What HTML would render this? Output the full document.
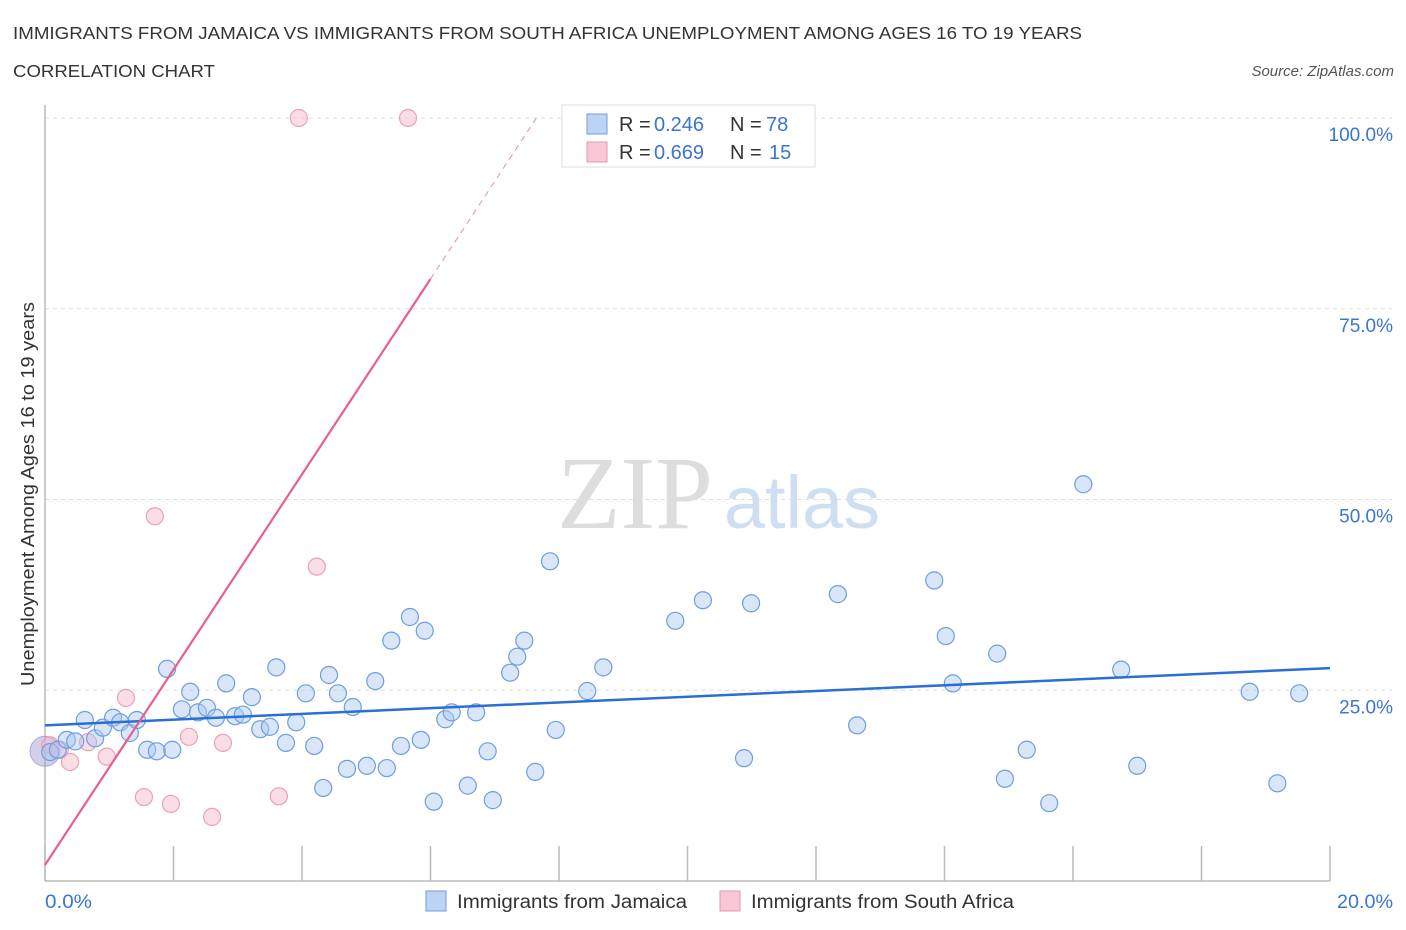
<!DOCTYPE html>
<html><head><meta charset="utf-8">
<style>
body{margin:0;background:#fff;font-family:"Liberation Sans",sans-serif;}
svg{display:block}
</style></head>
<body>
<svg id="chart" width="1406" height="930">
<text x="13" y="39" font-size="17.5" fill="#333" textLength="1069" lengthAdjust="spacingAndGlyphs">IMMIGRANTS FROM JAMAICA VS IMMIGRANTS FROM SOUTH AFRICA UNEMPLOYMENT AMONG AGES 16 TO 19 YEARS</text>
<text x="13" y="77" font-size="17.5" fill="#333" textLength="202" lengthAdjust="spacingAndGlyphs">CORRELATION CHART</text>
<text x="1394" y="76" font-size="15" fill="#555" font-style="italic" text-anchor="end">Source: ZipAtlas.com</text>
<text x="635" y="528" font-size="104" fill="#ddd" font-family="Liberation Serif" text-anchor="middle">ZIP</text>
<text x="802" y="528" font-size="74" fill="#cfdff2" text-anchor="middle">atlas</text>
<g id="grid"></g>
<g id="axes"></g>
<g id="marks"></g>
<text transform="translate(34,494) rotate(-90)" font-size="18.5" fill="#333" text-anchor="middle" textLength="384" lengthAdjust="spacingAndGlyphs">Unemployment Among Ages 16 to 19 years</text>
<text x="45" y="908" font-size="19" fill="#3b74d1" textLength="47" lengthAdjust="spacingAndGlyphs">0.0%</text>
<text x="1337" y="908" font-size="19" fill="#3b74d1" textLength="56" lengthAdjust="spacingAndGlyphs">20.0%</text>
<g>
<rect x="562" y="105" width="253" height="62" fill="#fff" stroke="#ddd"/>
<rect x="587" y="114" width="20" height="20" fill="#bcd3f3" stroke="#6d9ee0"/>
<rect x="587" y="142" width="20" height="20" fill="#f8c6d4" stroke="#e895ae"/>
<text y="131" font-size="20" fill="#333"><tspan x="619">R =</tspan><tspan x="654" fill="#3b74d1">0.246</tspan><tspan x="730">N =</tspan><tspan x="766" fill="#3b74d1">78</tspan></text>
<text y="159" font-size="20" fill="#333"><tspan x="619">R =</tspan><tspan x="654" fill="#3b74d1">0.669</tspan><tspan x="730">N =</tspan><tspan x="769" fill="#3b74d1">15</tspan></text>
</g>
<g>
<rect x="426" y="891" width="20" height="20" fill="#bcd3f3" stroke="#6d9ee0"/>
<text x="457" y="908" font-size="19" fill="#333" textLength="230" lengthAdjust="spacingAndGlyphs">Immigrants from Jamaica</text>
<rect x="720" y="891" width="20" height="20" fill="#f8c6d4" stroke="#e895ae"/>
<text x="751" y="908" font-size="19" fill="#333" textLength="263" lengthAdjust="spacingAndGlyphs">Immigrants from South Africa</text>
</g>
</svg>
<script>
const yTicks=[25,50,75,100];
const yTickLabels=["25.0%","50.0%","75.0%","100.0%"];
const xTicks=[0,2,4,6,8,10,12,14,16,18,20];
const jamX=[0.08,0.2,0.34,0.62,0.47,0.78,0.9,1.06,1.17,1.32,1.43,1.59,1.74,1.98,1.9,2.13,2.26,2.38,2.52,2.66,2.82,2.96,3.08,3.22,3.35,3.5,3.6,3.75,3.91,4.06,4.19,4.33,4.42,4.56,4.79,4.7,5.01,5.14,5.32,5.39,5.54,5.68,5.85,5.91,6.05,6.23,6.33,6.58,6.71,6.89,6.97,7.24,7.35,7.46,7.63,7.86,7.95,8.44,8.69,9.81,10.24,10.88,10.99,12.34,12.64,13.84,14.02,14.13,14.82,14.94,15.28,15.63,16.16,16.75,17.0,18.75,19.18,19.52];
const jamY=[16.9,17.2,18.5,21.1,18.3,18.7,20.1,21.4,20.8,19.4,21.1,17.2,17.0,17.2,27.8,22.5,24.8,22.1,22.7,21.4,25.9,21.6,21.8,24.1,19.9,20.2,28.0,18.1,20.8,24.6,17.7,12.2,27.0,24.6,22.8,14.7,15.1,26.2,14.8,31.5,17.7,34.6,18.5,32.8,10.4,21.2,22.1,12.5,22.1,17.0,10.6,27.3,29.4,31.5,14.3,41.9,19.8,24.9,28.0,34.1,36.8,16.1,36.4,37.6,20.4,39.4,32.1,25.9,29.8,13.4,17.2,10.2,52.0,27.7,15.1,24.8,12.8,24.6];
const saX=[0.08,0.23,0.39,0.67,0.96,1.26,1.54,1.71,1.96,2.24,2.6,2.77,3.64,3.95,4.23,5.65];
const saY=[17.8,17.2,15.6,18.2,16.3,24.0,11.0,47.8,10.1,18.9,8.4,18.1,11.1,100,41.2,100];
const jamTrend=[20.4,27.9];
const saTrend=[2.1,12.8];
const NS="http://www.w3.org/2000/svg";
const X0=45,X1=1330,Y0=881,Y100=118;
function sx(v){return X0+(X1-X0)*v/20;}
function sy(v){return Y0-(Y0-Y100)*v/100;}
function mk(tag,attrs,parent){const e=document.createElementNS(NS,tag);for(const k in attrs)e.setAttribute(k,attrs[k]);parent.appendChild(e);return e;}
const grid=document.getElementById('grid'),axes=document.getElementById('axes'),marks=document.getElementById('marks');
yTicks.forEach((t,i)=>{
 const l=mk('line',{x1:X0,x2:1392,y1:sy(t),y2:sy(t),stroke:'#ddd','stroke-dasharray':'4,4'},grid);
 
 
 const tx=mk('text',{x:1393,y:sy(t)+23,'font-size':19,fill:'#3b74d1','text-anchor':'end'},grid);
 tx.textContent=yTickLabels[i];
 
 
});
const ya=mk('line',{x1:X0,x2:X0,y1:105,y2:Y0,stroke:'#bbb','stroke-width':1.5},axes);


const xa=mk('line',{x1:X0,x2:X1,y1:Y0,y2:Y0,stroke:'#bbb','stroke-width':1.5},axes);


xTicks.forEach(t=>{
 const l=mk('line',{x1:sx(t),x2:sx(t),y1:846,y2:Y0,stroke:'#bbb','stroke-width':1.5},axes);
 
 
});
const big=mk('circle',{cx:sx(0),cy:sy(17),r:15,fill:'rgba(170,160,210,0.5)',stroke:'rgba(120,140,200,0.6)'},marks);


saX.forEach((x,i)=>{
 const c=mk('circle',{cx:sx(x),cy:sy(saY[i]),r:8.5,fill:'rgba(246,180,200,0.45)',stroke:'#eba1b8','stroke-width':1.2},marks);
 
 
});
jamX.forEach((x,i)=>{
 const c=mk('circle',{cx:sx(x),cy:sy(jamY[i]),r:8.5,fill:'rgba(170,200,240,0.45)',stroke:'#6d9ee0','stroke-width':1.2},marks);
 
 
});
const jl=mk('line',{x1:sx(0),y1:sy(jamTrend[0]),x2:sx(20),y2:sy(jamTrend[1]),stroke:'#2a6fd6','stroke-width':2.5},marks);


const xs=6.0,xe=(100-saTrend[0])/saTrend[1];
const sl=mk('line',{x1:sx(0),y1:sy(saTrend[0]),x2:sx(xs),y2:sy(saTrend[0]+saTrend[1]*xs),stroke:'#e8608a','stroke-width':2.2},marks);


const sd=mk('line',{x1:sx(xs),y1:sy(saTrend[0]+saTrend[1]*xs),x2:sx(xe),y2:sy(100),stroke:'#e8a0b5','stroke-width':1.2,'stroke-dasharray':'6,5'},marks);


</script>
</body></html>
